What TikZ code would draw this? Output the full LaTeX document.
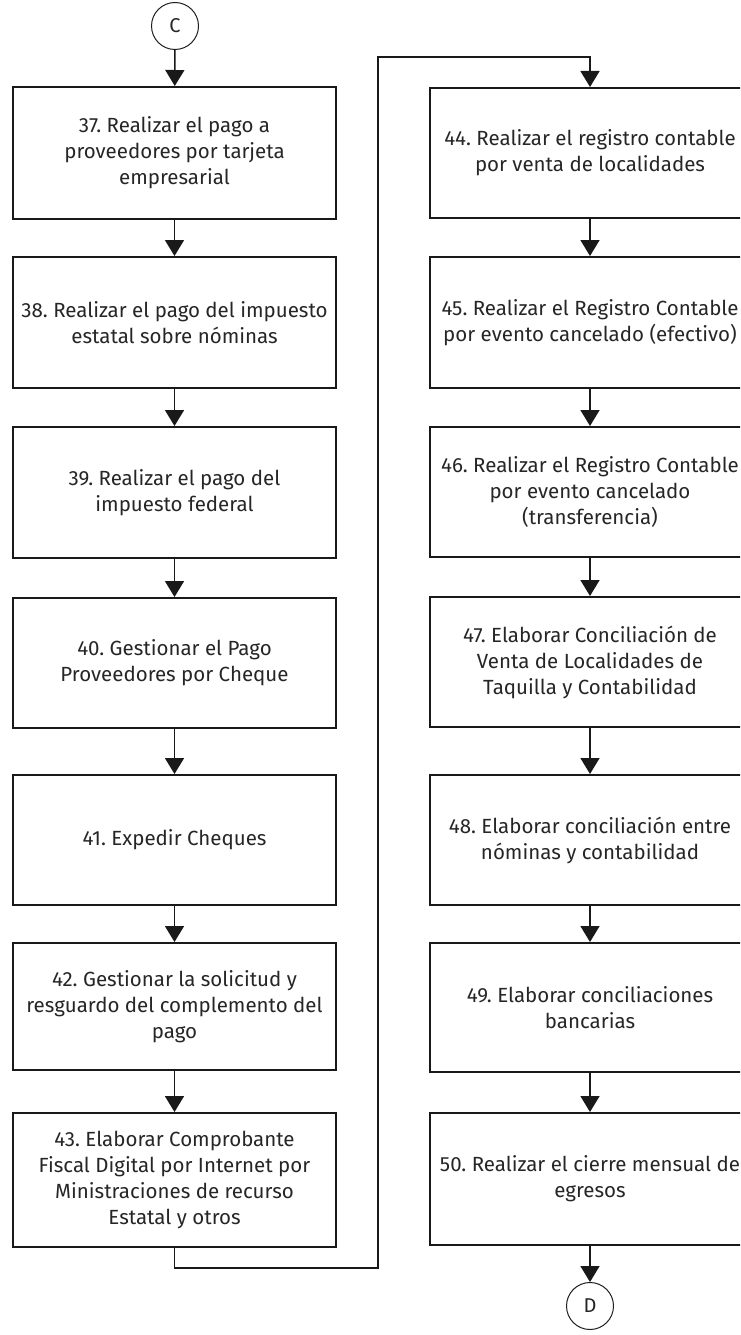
\documentclass[tikz,border=0pt]{standalone}
\usepackage{fontspec}
\setmainfont{Fira Sans}
\frenchspacing
\usetikzlibrary{arrows.meta}
\begin{document}
\begin{tikzpicture}[x=1pt,y=-1pt,
 box/.style={draw=black!90, line width=2pt, align=center, text=black!85,
   font=\fontsize{20.5}{26}\selectfont, inner sep=0pt},
 lbox/.style={box, minimum width=323pt},
 rbox/.style={box, minimum width=320pt},
 conn/.style={draw=black!90, line width=1.6pt, -{Triangle[width=19pt,length=16pt]}},
 circ/.style={circle, draw=black!88, line width=1pt, minimum size=47pt, inner sep=0pt,
   text=black!85, font=\fontsize{20}{22}\selectfont}]
\clip (0,0) rectangle (740,1335);
\fill[white] (0,0) rectangle (740,1335);

\node[circ] (C) at (175,26) {C};

\node[lbox, minimum height=132pt] (b37) at (174.5,153) {37. Realizar el pago a\\proveedores por tarjeta\\empresarial};
\node[lbox, minimum height=131pt] (b38) at (174.5,322.5) {38. Realizar el pago del impuesto\\estatal sobre nóminas};
\node[lbox, minimum height=131pt] (b39) at (174.5,492.5) {39. Realizar el pago del\\impuesto federal};
\node[lbox, minimum height=130pt] (b40) at (174.5,663) {40. Gestionar el Pago\\Proveedores por Cheque};
\node[lbox, minimum height=130pt] (b41) at (174.5,840) {41. Expedir Cheques};
\node[lbox, minimum height=127pt] (b42) at (174.5,1006.5) {42. Gestionar la solicitud y\\resguardo del complemento del\\pago};
\node[lbox, minimum height=134pt] (b43) at (174.5,1180) {43. Elaborar Comprobante\\Fiscal Digital por Internet por\\Ministraciones de recurso\\Estatal y otros};

\node[rbox, minimum height=130pt] (b44) at (590,153) {44. Realizar el registro contable\\por venta de localidades};
\node[rbox, minimum height=131pt] (b45) at (590,322.5) {45. Realizar el Registro Contable\\por evento cancelado (efectivo)};
\node[rbox, minimum height=130pt] (b46) at (590,492) {46. Realizar el Registro Contable\\por evento cancelado\\(transferencia)};
\node[rbox, minimum height=130pt] (b47) at (590,662) {47. Elaborar Conciliación de\\Venta de Localidades de\\Taquilla y Contabilidad};
\node[rbox, minimum height=130pt] (b48) at (590,840) {48. Elaborar conciliación entre\\nóminas y contabilidad};
\node[rbox, minimum height=129pt] (b49) at (590,1007.5) {49. Elaborar conciliaciones\\bancarias};
\node[rbox, minimum height=132pt] (b50) at (590,1179) {50. Realizar el cierre mensual de\\egresos};

\node[circ] (D) at (590,1306) {D};

\coordinate (t1) at (378,1268);
\coordinate (t2) at (378,57);

\draw[conn] (C) -- (b37);
\draw[conn] (b37) -- (b38);
\draw[conn] (b38) -- (b39);
\draw[conn] (b39) -- (b40);
\draw[conn] (b40) -- (b41);
\draw[conn] (b41) -- (b42);
\draw[conn] (b42) -- (b43);
\draw[conn] (b43.south) |- (t1) -- (t2) -| (b44.north);
\draw[conn] (b44) -- (b45);
\draw[conn] (b45) -- (b46);
\draw[conn] (b46) -- (b47);
\draw[conn] (b47) -- (b48);
\draw[conn] (b48) -- (b49);
\draw[conn] (b49) -- (b50);
\draw[conn] (b50) -- (D);
\end{tikzpicture}
\end{document}
